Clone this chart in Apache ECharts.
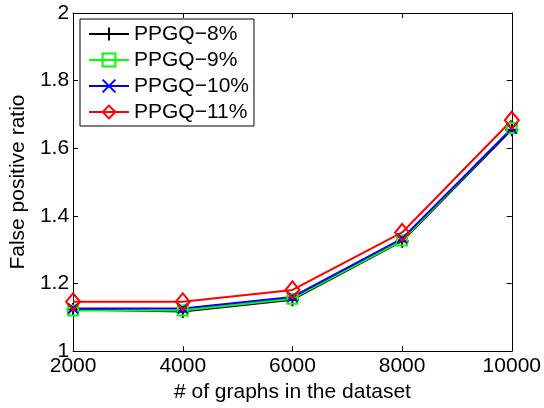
<!DOCTYPE html>
<html>
<head>
<meta charset="utf-8">
<script src="https://cdn.jsdelivr.net/npm/echarts@6/dist/echarts.min.js"></script>
<style>
  html, body { margin: 0; padding: 0; background: #fff; }
  #chart { width: 544px; height: 408px; }
</style>
</head>
<body>
<div id="chart"></div>
<script>
  // data
  var graphCounts = [2000, 4000, 6000, 8000, 10000];
  var ppgq8 = [1.123, 1.117, 1.152, 1.325, 1.655];
  var ppgq9 = [1.120, 1.120, 1.155, 1.327, 1.660];
  var ppgq10 = [1.126, 1.126, 1.160, 1.333, 1.658];
  var ppgq11 = [1.146, 1.146, 1.181, 1.351, 1.683];
  var seriesNames = ['PPGQ\u22128%', 'PPGQ\u22129%', 'PPGQ\u221210%', 'PPGQ\u221211%'];

  var font = "'Liberation Sans', Arial, sans-serif";
  var plusPath = 'path://M0,-6L0,6M-6,0L6,0';
  var crossPath = 'path://M-5,-5L5,5M-5,5L5,-5';

  function pairs(vals) {
    return graphCounts.map(function (x, i) { return [x, vals[i]]; });
  }

  function makeSeries(name, vals, color, symbol, size) {
    return {
      name: name,
      type: 'line',
      data: pairs(vals),
      symbol: symbol,
      symbolSize: size,
      showAllSymbol: true,
      lineStyle: { color: color, width: 2 },
      itemStyle: { color: 'none', borderColor: color, borderWidth: 2 },
      emphasis: { disabled: true },
      animation: false
    };
  }

  var tickStyle = { inside: true, length: 5, lineStyle: { color: '#000' } };

  var chart = echarts.init(document.getElementById('chart'));
  chart.setOption({
    backgroundColor: '#fff',
    animation: false,
    grid: { left: 73, right: 31, top: 13, bottom: 53 },
    legend: {
      left: 80,
      top: 19,
      orient: 'vertical',
      itemWidth: 40,
      itemHeight: 16,
      itemGap: 4,
      padding: [4, 5, 3, 8],
      borderColor: '#000',
      borderWidth: 1,
      borderRadius: 0,
      backgroundColor: '#fff',
      textStyle: { fontFamily: font, fontSize: 21, lineHeight: 22, color: '#000' },
      data: seriesNames
    },
    xAxis: [
      {
        type: 'value', min: 2000, max: 10000, interval: 2000,
        name: '# of graphs in the dataset', nameLocation: 'middle', nameGap: 28,
        nameTextStyle: { fontFamily: font, fontSize: 21, color: '#000' },
        axisLine: { lineStyle: { color: '#000', width: 1 } },
        axisTick: tickStyle,
        axisLabel: {
          fontFamily: font, fontSize: 21, color: '#000', margin: 5,
          formatter: function (v) { return String(v); }
        },
        splitLine: { show: false }
      },
      {
        type: 'value', position: 'top', min: 2000, max: 10000, interval: 2000,
        axisLine: { lineStyle: { color: '#000', width: 1 } },
        axisTick: tickStyle,
        axisLabel: { show: false },
        splitLine: { show: false }
      }
    ],
    yAxis: [
      {
        type: 'value', min: 1, max: 2, interval: 0.2,
        name: 'False positive ratio', nameLocation: 'middle', nameGap: 36,
        nameTextStyle: { fontFamily: font, fontSize: 21, color: '#000' },
        axisLine: { show: true, lineStyle: { color: '#000', width: 1 } },
        axisTick: Object.assign({ show: true }, tickStyle),
        axisLabel: {
          fontFamily: font, fontSize: 21, color: '#000', margin: 4,
          formatter: function (v) { return (Math.round(v * 10) / 10).toString(); }
        },
        splitLine: { show: false }
      },
      {
        type: 'value', position: 'right', min: 1, max: 2, interval: 0.2,
        axisLine: { show: true, lineStyle: { color: '#000', width: 1 } },
        axisTick: Object.assign({ show: true }, tickStyle),
        axisLabel: { show: false },
        splitLine: { show: false }
      }
    ],
    series: [
      makeSeries(seriesNames[0], ppgq8, '#000000', plusPath, 13),
      makeSeries(seriesNames[1], ppgq9, '#00ff00', 'rect', 10),
      makeSeries(seriesNames[2], ppgq10, '#0000ff', crossPath, 10),
      makeSeries(seriesNames[3], ppgq11, '#ff0000', 'diamond', [14, 17])
    ]
  });
</script>
</body>
</html>
